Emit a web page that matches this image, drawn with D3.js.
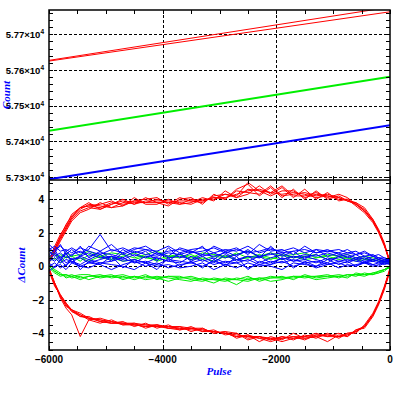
<!DOCTYPE html>
<html>
<head>
<meta charset="utf-8">
<script src="https://cdn.jsdelivr.net/npm/d3@7"></script>
<style>
  body { margin: 0; background: #fff; }
  svg { display: block; }
</style>
</head>
<body>
<div id="chart"></div>
<script>
// ---- data ----
// top panel: count versus pulse (straight sweeps)
const topPulse = [-6000, 0];
const topRedA = [57627, 57776];
const topRedB = [57625, 57763];
const topGreen = [57430, 57581];
const topBlue = [57294, 57445];
const topTicks = [57300, 57400, 57500, 57600, 57700];

// bottom panel: delta count versus pulse
const pulse = [-6000,-5900,-5800,-5700,-5600,-5450,-5300,-5100,-4900,-4700,-4500,-4300,-4100,-3900,-3700,-3500,-3300,-3100,-2900,-2700,-2500,-2300,-2100,-1900,-1700,-1500,-1300,-1100,-900,-750,-600,-450,-300,-200,-100,0];

const redUpper = [
  [0.3,1.2,1.9,2.4,3.1,3.5,3.8,3.4,3.7,4.0,3.7,4.1,3.8,3.6,4.0,4.1,3.7,4.3,4.0,4.6,4.9,4.2,4.7,4.1,4.6,4.0,4.5,4.0,4.2,3.9,3.8,3.3,2.8,2.2,1.4,0.2],
  [0.2,0.8,1.5,2.1,2.7,3.2,3.4,3.8,3.5,3.6,4.1,3.7,3.7,4.0,3.7,3.8,4.1,3.9,4.5,4.1,4.3,4.8,4.3,4.7,4.1,4.6,4.0,4.4,3.9,4.0,3.6,3.2,2.6,2.0,1.2,0.3],
  [0.4,1.0,1.8,2.5,3.0,3.5,3.6,3.7,3.9,3.6,3.9,4.0,4.1,3.7,4.1,3.9,3.8,4.2,4.3,4.2,5.0,4.5,4.4,4.8,4.2,4.2,4.4,4.1,4.3,4.1,3.7,3.4,2.7,2.1,1.3,0.1],
  [0.3,0.9,1.6,2.2,2.8,3.3,3.5,3.4,3.7,3.9,3.7,3.9,3.9,3.9,3.8,3.7,4.0,4.0,4.3,4.1,4.6,4.5,4.2,4.5,4.5,4.1,4.3,4.2,4.0,4.0,3.7,3.3,2.7,2.1,1.3,0.2],
  [0.2,1.1,1.7,2.3,2.9,3.4,3.7,3.6,3.5,3.8,3.9,3.8,3.8,3.8,3.7,4.0,3.9,4.1,4.0,4.5,4.4,4.3,4.8,4.2,4.3,4.4,4.2,4.3,4.1,3.9,3.8,3.5,2.8,2.1,1.3,0.3],
  [0.3,1.0,1.7,2.3,2.9,3.5,3.6,3.5,3.8,3.7,3.8,3.8,4.0,3.8,3.9,3.9,3.9,4.1,4.1,4.3,4.5,4.6,4.4,4.3,4.4,4.3,4.1,4.2,4.1,3.9,3.7,3.3,2.7,2.1,1.3,0.2]
];
const redLower = [
  [-0.2,-1.1,-1.8,-2.3,-2.6,-2.9,-3.1,-3.2,-3.3,-3.4,-3.5,-3.5,-3.6,-3.6,-3.7,-3.7,-3.8,-3.9,-4.0,-4.1,-4.2,-4.3,-4.3,-4.3,-4.2,-4.2,-4.1,-4.2,-4.2,-4.1,-3.9,-3.6,-2.9,-2.2,-1.3,-0.2],
  [-0.1,-1.0,-1.9,-2.5,-2.9,-4.2,-3.2,-3.4,-3.2,-3.5,-3.4,-3.7,-3.5,-3.7,-3.6,-3.9,-3.7,-4.0,-3.9,-4.3,-4.1,-4.5,-4.2,-4.4,-4.0,-4.3,-4.2,-4.5,-4.1,-4.2,-3.8,-3.7,-3.0,-2.3,-1.4,-0.3],
  [-0.3,-1.2,-1.7,-2.2,-2.7,-3.0,-3.0,-3.3,-3.4,-3.3,-3.6,-3.4,-3.7,-3.5,-3.8,-3.6,-3.9,-3.8,-4.1,-4.0,-4.4,-4.2,-4.4,-4.2,-4.4,-4.1,-4.3,-4.0,-4.3,-4.0,-4.0,-3.5,-2.8,-2.1,-1.2,-0.1],
  [-0.2,-1.1,-1.8,-2.3,-2.7,-2.9,-3.2,-3.1,-3.3,-3.5,-3.5,-3.6,-3.6,-3.7,-3.7,-3.8,-3.8,-3.9,-4.0,-4.2,-4.1,-4.3,-4.5,-4.3,-4.2,-4.4,-4.1,-4.1,-4.2,-4.1,-3.9,-3.6,-2.9,-2.2,-1.3,-0.2],
  [-0.2,-1.0,-1.8,-2.4,-2.6,-2.8,-3.1,-3.3,-3.4,-3.4,-3.4,-3.5,-3.5,-3.6,-3.6,-3.7,-3.7,-4.0,-3.9,-4.0,-4.3,-4.2,-4.3,-4.5,-4.3,-4.2,-4.0,-4.2,-4.0,-4.2,-3.8,-3.6,-2.9,-2.2,-1.3,-0.2],
  [-0.2,-1.0,-1.7,-2.2,-2.6,-3.0,-3.1,-3.2,-3.4,-3.4,-3.5,-3.6,-3.5,-3.7,-3.8,-3.7,-3.9,-3.9,-4.0,-4.2,-4.2,-4.2,-4.4,-4.2,-4.3,-4.3,-4.2,-4.1,-4.2,-4.0,-3.9,-3.6,-2.9,-2.2,-1.3,-0.2]
];
const blueRuns = [
  [0.9,0.6,0.8,0.5,0.7,0.9,0.6,0.8,0.7,0.5,0.9,0.7,0.6,0.8,0.7,0.9,0.6,0.8,0.5,0.7,0.9,0.6,0.7,0.8,0.5,0.7,0.6,0.8,0.6,0.7,0.5,0.6,0.4,0.5,0.4,0.3],
  [0.3,0.5,0.2,0.4,0.3,0.1,0.4,0.2,0.3,0.5,0.2,0.3,0.1,0.4,0.3,0.2,0.4,0.1,0.3,0.2,0.4,0.1,0.3,0.2,0.4,0.2,0.3,0.1,0.3,0.2,0.4,0.2,0.3,0.2,0.3,0.3],
  [1.3,1.0,1.2,0.9,1.1,0.8,1.0,1.9,0.9,1.1,0.8,1.0,0.9,1.2,0.8,1.0,1.1,0.8,1.0,0.9,1.2,0.8,1.0,0.9,1.1,0.8,1.0,0.9,0.8,1.0,0.7,0.9,0.6,0.7,0.5,0.4],
  [0.0,0.2,-0.1,0.1,0.3,0.0,0.2,0.1,-0.2,0.1,0.3,0.0,0.2,-0.1,0.1,0.2,0.0,0.3,0.1,-0.1,0.2,0.0,0.1,0.3,0.0,0.2,-0.1,0.1,0.2,0.0,0.1,0.2,0.0,0.1,0.2,0.2],
  [0.6,0.8,0.5,0.7,0.4,0.6,0.8,0.5,0.6,0.4,0.7,0.5,0.8,0.5,0.6,0.4,0.7,0.6,0.8,0.4,0.6,0.5,0.8,0.4,0.6,0.5,0.7,0.4,0.5,0.6,0.4,0.5,0.3,0.4,0.3,0.3],
  [0.5,0.3,0.6,0.2,0.4,0.5,0.2,0.4,0.6,0.3,0.4,0.2,0.5,0.3,0.2,0.6,0.3,0.5,0.2,0.4,0.3,0.6,0.2,0.5,0.3,0.4,0.2,0.5,0.3,0.4,0.3,0.2,0.4,0.3,0.2,0.2],
  [1.0,1.2,0.9,1.0,0.8,1.1,0.9,0.7,1.0,0.8,1.1,1.0,0.7,0.9,1.0,0.8,0.9,1.1,0.8,1.0,0.8,0.9,1.1,0.8,0.9,1.0,0.8,1.0,0.7,0.8,0.9,0.6,0.7,0.5,0.4,0.4],
  [-0.3,0.0,0.1,-0.2,0.2,0.0,-0.1,0.2,0.1,0.0,-0.2,0.2,0.0,0.1,-0.1,0.0,0.2,-0.2,0.1,0.2,-0.1,0.1,0.0,-0.2,0.2,0.1,0.0,0.2,-0.1,0.1,0.0,0.2,0.1,0.0,0.2,0.1],
  [0.7,1.0,0.4,0.9,0.6,1.2,0.5,0.9,0.4,1.0,0.6,0.9,0.3,1.1,0.5,0.8,1.2,0.4,0.9,0.6,1.0,0.5,1.2,0.6,0.9,0.4,1.0,0.6,0.8,0.5,0.7,0.4,0.6,0.4,0.3,0.4],
  [0.2,-0.1,0.4,0.0,0.5,-0.2,0.3,0.1,0.6,-0.1,0.4,0.2,-0.2,0.5,0.0,0.3,-0.1,0.4,0.0,0.6,-0.2,0.3,0.1,0.5,-0.1,0.3,0.0,0.4,0.1,0.3,0.0,0.3,0.1,0.2,0.1,0.2],
  [1.1,0.8,1.3,0.7,1.0,0.6,1.2,0.9,1.3,0.7,1.0,1.2,0.8,0.6,1.1,0.9,0.7,1.2,0.9,1.1,0.7,1.3,0.9,1.0,0.7,1.2,0.8,0.9,1.0,0.8,0.7,0.8,0.6,0.5,0.5,0.4],
  [0.4,0.7,0.3,0.8,0.2,0.6,0.4,0.7,0.3,0.8,0.2,0.6,0.5,0.3,0.8,0.3,0.6,0.2,0.7,0.3,0.6,0.2,0.5,0.7,0.3,0.6,0.4,0.2,0.6,0.3,0.5,0.3,0.4,0.3,0.3,0.3]
];
const greenRuns = [
  [0.6,0.4,0.7,0.5,0.6,0.3,0.7,0.5,0.4,0.6,0.8,0.5,0.4,0.6,0.5,0.7,0.4,0.6,0.5,0.8,0.5,0.6,0.4,0.7,0.5,0.6,0.7,0.4,0.6,0.5,0.4,0.5,0.3,0.4,0.3,0.2],
  [0.3,0.5,0.2,0.6,0.4,0.5,0.3,0.6,0.5,0.3,0.4,0.6,0.3,0.5,0.7,0.4,0.5,0.3,0.6,0.4,0.5,0.7,0.5,0.4,0.6,0.4,0.5,0.6,0.4,0.5,0.3,0.4,0.4,0.3,0.2,0.2],
  [0.9,0.7,0.5,0.8,0.6,0.7,0.9,0.6,0.8,0.7,0.5,0.7,0.9,0.6,0.7,0.5,0.8,0.7,0.6,0.7,0.9,0.6,0.8,0.6,0.7,0.8,0.5,0.7,0.6,0.7,0.5,0.6,0.5,0.4,0.3,0.3],
  [0.0,-0.3,-0.5,-0.6,-0.5,-0.7,-0.6,-0.5,-0.7,-0.6,-0.8,-0.6,-0.7,-0.9,-0.7,-0.6,-0.8,-1.0,-0.7,-0.8,-0.6,-0.9,-0.7,-0.6,-0.8,-0.5,-0.7,-0.6,-0.5,-0.6,-0.5,-0.6,-0.4,-0.3,-0.2,0.0],
  [-0.1,-0.4,-0.6,-0.5,-0.7,-0.6,-0.8,-0.6,-0.5,-0.8,-0.6,-0.7,-0.6,-0.7,-0.8,-0.9,-0.7,-0.8,-0.9,-0.7,-0.8,-0.7,-0.9,-0.8,-0.6,-0.7,-0.6,-0.5,-0.7,-0.5,-0.6,-0.4,-0.5,-0.3,-0.2,-0.1],
  [0.1,-0.2,-0.4,-0.7,-0.6,-0.5,-0.5,-0.7,-0.6,-0.5,-0.7,-0.5,-0.8,-0.6,-0.6,-0.8,-0.9,-0.7,-0.8,-1.1,-0.7,-0.8,-0.6,-0.7,-0.7,-0.6,-0.8,-0.7,-0.6,-0.7,-0.4,-0.5,-0.5,-0.4,-0.3,0.0],
  [0.0,-0.3,-0.5,-0.5,-0.6,-0.8,-0.6,-0.6,-0.6,-0.7,-0.6,-0.8,-0.7,-0.6,-0.7,-0.7,-0.8,-0.8,-0.8,-0.8,-0.9,-0.7,-0.7,-0.7,-0.6,-0.6,-0.6,-0.6,-0.6,-0.5,-0.5,-0.5,-0.4,-0.4,-0.2,0.0]
];
const bottomTicks = [-4, -2, 0, 2, 4];
const xTicks = [-6000, -4000, -2000, 0];

// ---- layout ----
const W = 399, H = 399;
const left = 49, right = 390;
const topY0 = 10, midY = 180, botY1 = 350;

const svg = d3.select("#chart").append("svg")
    .attr("width", W).attr("height", H);

const x = d3.scaleLinear().domain([-6000, 0]).range([left, right]);
const yTop = d3.scaleLinear().domain([57292, 57768]).range([midY, topY0]);
const yBot = d3.scaleLinear().domain([-5, 5.15]).range([botY1, midY]);

svg.append("clipPath").attr("id", "clipTop")
  .append("rect").attr("x", left).attr("y", topY0).attr("width", right - left).attr("height", midY - topY0);
svg.append("clipPath").attr("id", "clipBot")
  .append("rect").attr("x", left).attr("y", midY).attr("width", right - left).attr("height", botY1 - midY);

// grid lines
function grid(y, ticks, y0, y1) {
  const g = svg.append("g").attr("stroke", "#000").attr("stroke-width", 1).attr("stroke-dasharray", "3,2");
  ticks.forEach(function (t) {
    g.append("line").attr("x1", left).attr("x2", right).attr("y1", Math.round(y(t)) + 0.5).attr("y2", Math.round(y(t)) + 0.5);
  });
  [-4000, -2000].forEach(function (t) {
    g.append("line").attr("x1", Math.round(x(t)) + 0.5).attr("x2", Math.round(x(t)) + 0.5).attr("y1", y0).attr("y2", y1);
  });
}
grid(yTop, topTicks, topY0, midY);
grid(yBot, bottomTicks, midY, botY1);

// top panel lines
const lineTop = d3.line().x(function (d, i) { return x(topPulse[i]); }).y(function (d) { return yTop(d); });
const gTop = svg.append("g").attr("clip-path", "url(#clipTop)").attr("fill", "none");
gTop.append("path").attr("d", lineTop(topRedA)).attr("stroke", "#ff0000").attr("stroke-width", 1);
gTop.append("path").attr("d", lineTop(topRedB)).attr("stroke", "#ff0000").attr("stroke-width", 1);
gTop.append("path").attr("d", lineTop(topGreen)).attr("stroke", "#00ee00").attr("stroke-width", 2);
gTop.append("path").attr("d", lineTop(topBlue)).attr("stroke", "#0000ff").attr("stroke-width", 2);

// bottom panel traces
const lineBot = d3.line().x(function (d, i) { return x(pulse[i]); }).y(function (d) { return yBot(d); });
const gBot = svg.append("g").attr("clip-path", "url(#clipBot)").attr("fill", "none").attr("stroke-width", 1);
redUpper.concat(redLower).forEach(function (r) {
  gBot.append("path").attr("d", lineBot(r)).attr("stroke", "#ff0000");
});
greenRuns.forEach(function (r) {
  gBot.append("path").attr("d", lineBot(r)).attr("stroke", "#00ee00");
});
blueRuns.forEach(function (r) {
  gBot.append("path").attr("d", lineBot(r)).attr("stroke", "#0000ff");
});

// ticks
const tk = svg.append("g").attr("stroke", "#000").attr("stroke-width", 1);
function yTicksFor(y, step, lo, hi) {
  for (let v = lo; v <= hi + 1e-9; v += step) {
    const py = Math.round(y(v)) + 0.5;
    tk.append("line").attr("x1", left).attr("x2", left + 4).attr("y1", py).attr("y2", py);
    tk.append("line").attr("x1", right - 4).attr("x2", right).attr("y1", py).attr("y2", py);
  }
}
yTicksFor(yTop, 20, 57300, 57760);
yTicksFor(yBot, 0.5, -5, 5);
for (let v = -6000; v <= 0; v += 500) {
  const px = Math.round(x(v)) + 0.5;
  tk.append("line").attr("x1", px).attr("x2", px).attr("y1", topY0).attr("y2", topY0 + 4);
  tk.append("line").attr("x1", px).attr("x2", px).attr("y1", midY - 4).attr("y2", midY);
  tk.append("line").attr("x1", px).attr("x2", px).attr("y1", midY).attr("y2", midY + 4);
  tk.append("line").attr("x1", px).attr("x2", px).attr("y1", botY1 - 4).attr("y2", botY1);
}

// frames
svg.append("rect").attr("x", left).attr("y", topY0).attr("width", right - left).attr("height", botY1 - topY0)
  .attr("fill", "none").attr("stroke", "#000").attr("stroke-width", 1.5);
svg.append("line").attr("x1", left).attr("x2", right).attr("y1", midY).attr("y2", midY)
  .attr("stroke", "#000").attr("stroke-width", 1.5);

// tick labels
const font = "'Liberation Sans', Arial, sans-serif";
topTicks.forEach(function (t) {
  const txt = svg.append("text").attr("x", 44).attr("y", yTop(t) + 3.5)
    .attr("text-anchor", "end").attr("font-family", font).attr("font-size", 9.5).attr("font-weight", "bold");
  txt.append("tspan").text((t / 1e4).toFixed(2) + "\u00d710");
  txt.append("tspan").attr("dy", -3.5).attr("font-size", 6.5).text("4");
});
bottomTicks.forEach(function (t) {
  svg.append("text").attr("x", 44).attr("y", yBot(t) + 4)
    .attr("text-anchor", "end").attr("font-family", font).attr("font-size", 10).attr("font-weight", "bold")
    .text(t < 0 ? "\u2212" + Math.abs(t) : String(t));
});
xTicks.forEach(function (t) {
  svg.append("text").attr("x", x(t)).attr("y", 363)
    .attr("text-anchor", "middle").attr("font-family", font).attr("font-size", 10).attr("font-weight", "bold")
    .text(t < 0 ? "\u2212" + Math.abs(t) : String(t));
});

// axis titles
const tfont = "'Liberation Serif', 'DejaVu Serif', serif";
svg.append("text").attr("transform", "translate(10,95) rotate(-90)")
  .attr("text-anchor", "middle").attr("font-family", tfont).attr("font-style", "italic").attr("font-weight", "bold")
  .attr("font-size", 11).attr("fill", "#0000ff").text("Count");
svg.append("text").attr("transform", "translate(25,265) rotate(-90)")
  .attr("text-anchor", "middle").attr("font-family", tfont).attr("font-style", "italic").attr("font-weight", "bold")
  .attr("font-size", 11).attr("fill", "#0000ff").text("\u0394Count");
svg.append("text").attr("x", 219).attr("y", 375)
  .attr("text-anchor", "middle").attr("font-family", tfont).attr("font-style", "italic").attr("font-weight", "bold")
  .attr("font-size", 11).attr("fill", "#0000ff").text("Pulse");
</script>
</body>
</html>
